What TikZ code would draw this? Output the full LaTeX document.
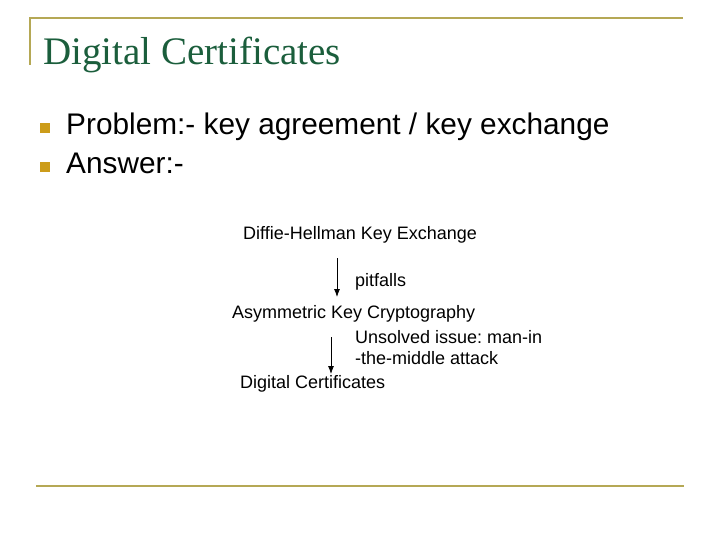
\documentclass[tikz,border=0pt]{standalone}
\usepackage{fontspec}
\setmainfont{Liberation Sans}
\newfontfamily\titlefont{Liberation Serif}
\usetikzlibrary{arrows.meta}
\frenchspacing
\definecolor{titlegreen}{HTML}{1B5E3C}
\definecolor{rulegold}{HTML}{B5A855}
\definecolor{bulletgold}{HTML}{CC9C1A}
\tikzset{
  rule/.style={draw=rulegold, line width=2.2pt},
  bulletbox/.style={fill=bulletgold, draw=none, minimum size=10pt, inner sep=0pt},
  bigtext/.style={anchor=base west, inner sep=0pt, font=\fontsize{29.8}{32}\selectfont},
  smalltext/.style={anchor=base west, inner sep=0pt, font=\fontsize{18}{21}\selectfont},
  flowarrow/.style={draw=black, line width=0.8pt, -{Latex[length=8pt,width=6pt]}}
}
\begin{document}
\begin{tikzpicture}[x=1pt,y=-1pt]
\useasboundingbox (0,0) rectangle (720,540);
% frame rules
\coordinate (tl) at (30,18);
\coordinate (tr) at (683,18);
\coordinate (lb) at (30,65);
\coordinate (bl) at (36,486);
\coordinate (br) at (684,486);
\draw[rule] (lb) -- (tl) -- (tr);
\draw[rule] (bl) -- (br);
% title
\node[anchor=base west, inner sep=0pt, text=titlegreen, font=\titlefont\fontsize{39}{42}\selectfont] (title) at (43,65) {Digital Certificates};
% bullets
\node[bulletbox] (b1) at (44.5,128) {};
\node[bulletbox] (b2) at (44.5,167) {};
\node[bigtext] (prob) at (66,135) {Problem:- key agreement / key exchange};
\node[bigtext] (ans) at (66,174) {Answer:-};
% diagram
\node[smalltext] (dh) at (243,240) {Diffie-Hellman Key Exchange};
\node[smalltext] (pit) at (355,286) {pitfalls};
\node[smalltext] (akc) at (232,318) {Asymmetric Key Cryptography};
\node[smalltext] (uns1) at (355,343) {Unsolved issue: man-in};
\node[smalltext] (uns2) at (355,364) {-the-middle attack};
\node[smalltext] (dc) at (240,388) {Digital Certificates};
\coordinate (a1s) at (337,258);
\coordinate (a1e) at (337,297);
\coordinate (a2s) at (331,337);
\coordinate (a2e) at (331,374);
\draw[flowarrow] (a1s) -- (a1e);
\draw[flowarrow] (a2s) -- (a2e);
\end{tikzpicture}
\end{document}
